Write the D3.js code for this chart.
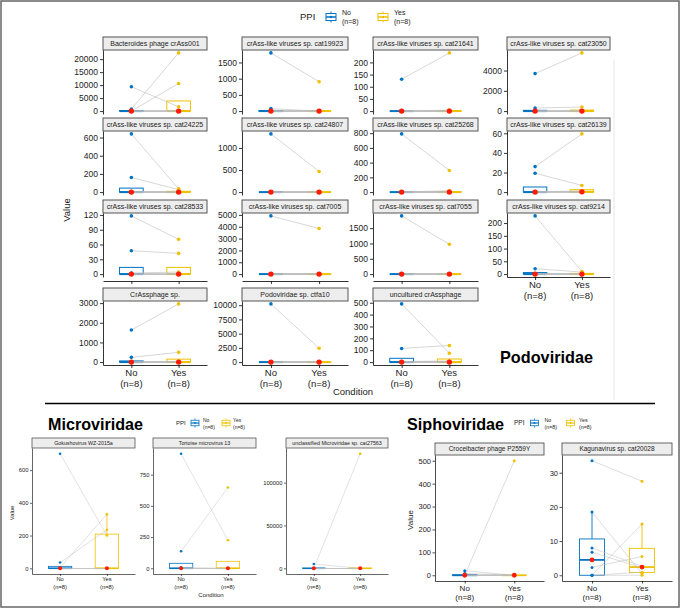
<!DOCTYPE html>
<html><head><meta charset="utf-8">
<script src="https://cdn.jsdelivr.net/npm/d3@7"></script>
<style>
body{margin:0;background:#fff}
svg{display:block}
text{font-family:"Liberation Sans",Arial,Helvetica,sans-serif}
</style>
</head><body>
<svg id="c" width="681" height="610"></svg>
<script>
// ---------------- DATA ----------------
const conditions = ["No", "Yes"];
const conditionCounts = ["(n=8)", "(n=8)"];
const groupColors = ["#0073C2", "#EFC000"];
const medianColor = "#FF1A00";

// Podoviridae panels (paired values, subject i in No[i] and Yes[i])
const podoNames = [
  "Bacteroides phage crAss001", "crAss-like viruses sp. cat19923", "crAss-like viruses sp. cat21641", "crAss-like viruses sp. cat23050",
  "crAss-like viruses sp. cat24225", "crAss-like viruses sp. cat24807", "crAss-like viruses sp. cat25268", "crAss-like viruses sp. cat26139",
  "crAss-like viruses sp. cat28533", "crAss-like viruses sp. cat7005", "crAss-like viruses sp. cat7055", "crAss-like viruses sp. cat9214",
  "CrAssphage sp.", "Podoviridae sp. ctfa10", "uncultured crAssphage"
];
const podoNo = [
  [9350, 800, 0, 0, 0, 0, 0, 0],
  [1795, 75, 0, 0, 0, 0, 0, 0],
  [131, 0, 0, 0, 0, 0, 0, 0],
  [3700, 300, 0, 0, 0, 0, 0, 0],
  [640, 160, 5, 0, 0, 0, 0, 0],
  [1318, 0, 0, 0, 0, 0, 0, 0],
  [790, 0, 0, 0, 0, 0, 0, 0],
  [26, 19.3, 0.5, 0, 0, 0, 0, 0],
  [118, 47.4, 2.3, 0, 0, 0, 0, 0],
  [4915, 0, 0, 0, 0, 0, 0, 0],
  [1900, 0, 0, 0, 0, 0, 0, 0],
  [228, 21, 1, 0, 0, 0, 0, 0],
  [1630, 240, 0, 0, 0, 0, 0, 0],
  [10230, 0, 0, 0, 0, 0, 0, 0],
  [490, 115, 4.3, 0, 0, 0, 0, 0]
];
const podoYes = [
  [1650, 22400, 10650, 0, 0, 0, 0, 0],
  [906, 0, 0, 0, 0, 0, 0, 0],
  [239, 4, 0, 0, 0, 0, 0, 0],
  [5740, 400, 0, 0, 0, 0, 0, 0],
  [35, 28, 2, 0, 0, 0, 0, 0],
  [468, 0, 0, 0, 0, 0, 0, 0],
  [294, 20, 0, 0, 0, 0, 0, 0],
  [59.4, 6.8, 1, 0.5, 0, 0, 0, 0],
  [70.5, 42, 4.1, 0, 0, 0, 0, 0],
  [3850, 0, 0, 0, 0, 0, 0, 0],
  [975, 0, 0, 0, 0, 0, 0, 0],
  [10.3, 8, 1, 0, 0, 0, 0, 0],
  [2960, 495, 35, 0, 0, 0, 0, 0],
  [2430, 0, 0, 0, 0, 0, 0, 0],
  [75, 140, 9.7, 0, 0, 0, 0, 0]
];
const podoTicks = [
  [0, 5000, 10000, 15000, 20000], [0, 500, 1000, 1500], [0, 50, 100, 150, 200], [0, 2000, 4000],
  [0, 200, 400, 600], [0, 500, 1000], [0, 200, 400, 600, 800], [0, 20, 40, 60],
  [0, 30, 60, 90, 120], [0, 1000, 2000, 3000, 4000, 5000], [0, 500, 1000, 1500], [0, 50, 100, 150, 200],
  [0, 1000, 2000, 3000], [0, 2500, 5000, 7500, 10000], [0, 100, 200, 300, 400, 500]
];

// Microviridae panels
const microNames = ["Gokushovirus WZ-2015a", "Tortoise microvirus 13", "unclassified Microviridae sp. cat27563"];
const microNo = [
  [700, 35, 4, 0, 0, 0, 0, 0],
  [918, 136, 8, 0, 0, 0, 0, 0],
  [0, 5000, 0, 0, 0, 0, 0, 0]
];
const microYes = [
  [200, 235, 330, 0, 0, 0, 0, 0],
  [224, 647, 0, 0, 0, 0, 0, 0],
  [133700, 0, 0, 0, 0, 0, 0, 0]
];
const microTicks = [[0, 200, 400, 600], [0, 250, 500, 750], [0, 50000, 100000]];

// Siphoviridae panels
const siphoNames = ["Croceibacter phage P2559Y", "Kagunavirus sp. cat20028"];
const siphoNo = [
  [0, 20, 8, 0, 0, 0, 0, 0],
  [33.5, 18.5, 8, 6.7, 2.3, 0, 0, 0]
];
const siphoYes = [
  [500, 0, 0, 0, 0, 0, 0, 0],
  [27.5, 0.5, 2.6, 2.2, 5.5, 15, 0.9, 0]
];
const siphoTicks = [[0, 100, 200, 300, 400, 500], [0, 10, 20, 30]];

// ---------------- DRAWING ----------------
const svg = d3.select("#c");
svg.append("rect").attr("width", 681).attr("height", 610).attr("fill", "#fff");

function drawPanel(o) {
  const g = svg.append("g");
  const M = d3.max(o.no.concat(o.yes));
  const y = d3.scaleLinear().domain([-0.05 * M, 1.05 * M]).range([o.bottom, o.top]);
  const x = d3.scalePoint().domain(conditions).range([o.x0, o.x1]).padding(0.6);
  const step = x.step();

  // strip
  g.append("rect").attr("x", o.x0).attr("y", o.top - o.stripH)
    .attr("width", o.x1 - o.x0).attr("height", o.stripH)
    .attr("fill", "#EDEDED").attr("stroke", "#555").attr("stroke-width", o.stripStroke);
  g.append("text").attr("x", (o.x0 + o.x1) / 2).attr("y", o.top - o.stripH / 2)
    .attr("dy", "0.35em").attr("text-anchor", "middle").attr("font-size", o.stripFont)
    .attr("fill", "#222").text(o.name);

  // y axis
  const yg = g.append("g").attr("transform", `translate(${o.x0},0)`)
    .call(d3.axisLeft(y).tickValues(o.ticks).tickFormat(d3.format("d"))
      .tickSize(o.tickLen).tickSizeOuter(0).tickPadding(o.tickPad));
  yg.attr("font-family", null).attr("font-size", null);
  yg.select(".domain").attr("stroke", "#000").attr("stroke-width", o.axisW);
  yg.selectAll(".tick line").attr("stroke", "#000").attr("stroke-width", o.axisW);
  yg.selectAll(".tick text").attr("font-size", o.tickFont).attr("fill", "#222");

  // x axis
  if (o.xAxis) {
    const ay = o.xAxisY !== undefined ? o.xAxisY : o.bottom;
    const xg = g.append("g").attr("transform", `translate(0,${ay})`)
      .call(d3.axisBottom(x).tickSize(o.tickLen).tickSizeOuter(0).tickFormat(""));
    xg.select(".domain").attr("stroke", "#000").attr("stroke-width", o.axisW);
    xg.selectAll(".tick line").attr("stroke", "#000").attr("stroke-width", o.axisW);
    if (o.xLabels) {
      conditions.forEach((c, i) => {
        const t = g.append("text").attr("text-anchor", "middle").attr("font-size", o.xFont).attr("fill", "#222");
        t.append("tspan").attr("x", x(c)).attr("y", ay + o.xLab1).text(c);
        t.append("tspan").attr("x", x(c)).attr("y", ay + o.xLab2).text(conditionCounts[i]);
      });
    }
  }

  const groups = [o.no, o.yes];
  // boxes
  groups.forEach((vals, i) => {
    const s = vals.slice().sort(d3.ascending);
    const q1 = d3.quantile(s, 0.25), med = d3.quantile(s, 0.5), q3 = d3.quantile(s, 0.75);
    const iqr = q3 - q1;
    const hi = d3.max(s.filter(v => v <= q3 + 1.5 * iqr));
    const lo = d3.min(s.filter(v => v >= q1 - 1.5 * iqr));
    const cx = x(conditions[i]), hw = 0.25 * step, col = groupColors[i];
    g.append("line").attr("x1", cx).attr("x2", cx).attr("y1", y(q3)).attr("y2", y(hi))
      .attr("stroke", col).attr("stroke-width", o.boxW);
    g.append("line").attr("x1", cx).attr("x2", cx).attr("y1", y(q1)).attr("y2", y(lo))
      .attr("stroke", col).attr("stroke-width", o.boxW);
    g.append("rect").attr("x", cx - hw).attr("y", y(q3)).attr("width", 2 * hw)
      .attr("height", Math.max(0, y(q1) - y(q3)))
      .attr("fill", "#fff").attr("stroke", col).attr("stroke-width", o.boxW);
    g.append("line").attr("x1", cx - hw).attr("x2", cx + hw).attr("y1", y(med)).attr("y2", y(med))
      .attr("stroke", col).attr("stroke-width", o.boxW * 2);
  });
  // paired lines
  o.no.forEach((v, k) => {
    g.append("line").attr("x1", x("No")).attr("y1", y(v)).attr("x2", x("Yes")).attr("y2", y(o.yes[k]))
      .attr("stroke", "#BDBDBD").attr("stroke-width", o.lineW).attr("opacity", 0.85);
  });
  // points
  groups.forEach((vals, i) => {
    vals.forEach(v => {
      g.append("circle").attr("cx", x(conditions[i])).attr("cy", y(v)).attr("r", o.ptR)
        .attr("fill", groupColors[i]);
    });
  });
  // medians
  groups.forEach((vals, i) => {
    const med = d3.median(vals);
    g.append("circle").attr("cx", x(conditions[i])).attr("cy", y(med)).attr("r", o.medR).attr("fill", medianColor);
  });
}

function legend(x, y, s) {
  const g = svg.append("g");
  g.append("text").attr("x", x).attr("y", y).attr("dy", "0.35em").attr("font-size", s.title).attr("fill", "#222").text("PPI");
  s.items.forEach((ix, i) => {
    const col = groupColors[i];
    const cx = ix.icon;
    g.append("line").attr("x1", cx).attr("x2", cx).attr("y1", y - s.ih / 2).attr("y2", y + s.ih / 2).attr("stroke", col).attr("stroke-width", s.sw);
    g.append("rect").attr("x", cx - s.iw / 2).attr("y", y - s.bh / 2).attr("width", s.iw).attr("height", s.bh)
      .attr("fill", "#fff").attr("stroke", col).attr("stroke-width", s.sw);
    g.append("line").attr("x1", cx - s.iw / 2).attr("x2", cx + s.iw / 2).attr("y1", y).attr("y2", y).attr("stroke", col).attr("stroke-width", s.sw * 1.5);
    g.append("circle").attr("cx", cx).attr("cy", y).attr("r", s.dot).attr("fill", col);
    g.append("text").attr("x", ix.label).attr("y", y - s.gap).attr("font-size", s.lab).attr("fill", "#222").text(conditions[i]);
    g.append("text").attr("x", ix.label).attr("y", y + s.gap2).attr("font-size", s.lab).attr("fill", "#222").text(conditionCounts[i]);
  });
}

// --- Podoviridae grid ---
const podoCols = [[103, 207], [242, 348], [373, 478], [507, 610]];
const podoRowTop = [50, 131, 213, 301];
const topStyle = {stripH: 13, stripStroke: 1, stripFont: 7, tickFont: 8.5, tickLen: 3, tickPad: 2, axisW: 0.8,
  xFont: 9.5, xLab1: 11, xLab2: 22, boxW: 1, lineW: 0.7, ptR: 1.8, medR: 2.7};
podoNames.forEach((name, k) => {
  const r = Math.floor(k / 4), c = k % 4;
  const o = Object.assign({}, topStyle, {
    name, no: podoNo[k], yes: podoYes[k], ticks: podoTicks[k],
    x0: podoCols[c][0], x1: podoCols[c][1], top: podoRowTop[r], bottom: podoRowTop[r] + 64
  });
  if (r === 2 && c < 3) { o.xAxis = true; o.xAxisY = 281; o.xLabels = false; }
  if (r === 2 && c === 3) { o.xAxis = true; o.xLabels = true; }
  if (r === 3) { o.xAxis = true; o.xLabels = true; }
  drawPanel(o);
});
svg.append("text").attr("transform", "translate(70,210) rotate(-90)").attr("text-anchor", "middle")
  .attr("font-size", 9.5).attr("fill", "#222").text("Value");
svg.append("text").attr("x", 353).attr("y", 395).attr("text-anchor", "middle")
  .attr("font-size", 9.5).attr("fill", "#222").text("Condition");
svg.append("text").attr("x", 500).attr("y", 363).attr("font-size", 16.5).attr("font-weight", "bold")
  .attr("textLength", 93).attr("lengthAdjust", "spacingAndGlyphs").attr("fill", "#000").text("Podoviridae");
legend(300, 17, {title: 9.5, lab: 7, ih: 11, iw: 10, bh: 7, sw: 1, dot: 1.2, gap: 2, gap2: 7,
  items: [{icon: 331, label: 342}, {icon: 383, label: 394}]});

// faint panel edge
svg.append("line").attr("x1", 614).attr("x2", 614).attr("y1", 60).attr("y2", 400).attr("stroke", "#E6E6E6").attr("stroke-width", 1);
// separator
svg.append("line").attr("x1", 45).attr("x2", 655).attr("y1", 403.5).attr("y2", 403.5).attr("stroke", "#000").attr("stroke-width", 1.6);

// --- Microviridae ---
const microCols = [[32, 135], [153, 256], [286, 388]];
const microStyle = {stripH: 10, stripStroke: 0.8, stripFont: 5.3, tickFont: 5.8, tickLen: 2, tickPad: 1.5, axisW: 0.6,
  xFont: 5.8, xLab1: 7, xLab2: 15, boxW: 0.8, lineW: 0.5, ptR: 1.3, medR: 2, xAxis: true, xLabels: true};
microNames.forEach((name, k) => {
  drawPanel(Object.assign({}, microStyle, {name, no: microNo[k], yes: microYes[k], ticks: microTicks[k],
    x0: microCols[k][0], x1: microCols[k][1], top: 448, bottom: 574}));
});
svg.append("text").attr("transform", "translate(14,513) rotate(-90)").attr("text-anchor", "middle")
  .attr("font-size", 5.8).attr("fill", "#222").text("Value");
svg.append("text").attr("x", 211).attr("y", 597).attr("text-anchor", "middle")
  .attr("font-size", 6).attr("fill", "#222").text("Condition");
svg.append("text").attr("x", 48).attr("y", 430).attr("font-size", 16.5).attr("font-weight", "bold")
  .attr("textLength", 95).attr("lengthAdjust", "spacingAndGlyphs").attr("fill", "#000").text("Microviridae");
legend(176, 423, {title: 6, lab: 5, ih: 9, iw: 8, bh: 5.5, sw: 0.8, dot: 0.9, gap: 1.5, gap2: 5.5,
  items: [{icon: 195, label: 203}, {icon: 226, label: 233}]});

// --- Siphoviridae ---
const siphoCols = [[435, 544], [562, 672]];
const siphoStyle = {stripH: 12, stripStroke: 0.9, stripFont: 6.5, tickFont: 7.5, tickLen: 2.5, tickPad: 1.5, axisW: 0.7,
  xFont: 8, xLab1: 10, xLab2: 19, boxW: 0.9, lineW: 0.6, ptR: 1.5, medR: 2.4, xAxis: true, xLabels: true};
siphoNames.forEach((name, k) => {
  drawPanel(Object.assign({}, siphoStyle, {name, no: siphoNo[k], yes: siphoYes[k], ticks: siphoTicks[k],
    x0: siphoCols[k][0], x1: siphoCols[k][1], top: 455, bottom: 581}));
});
svg.append("text").attr("transform", "translate(413,520) rotate(-90)").attr("text-anchor", "middle")
  .attr("font-size", 8).attr("fill", "#222").text("Value");
svg.append("text").attr("x", 407).attr("y", 430).attr("font-size", 16.5).attr("font-weight", "bold")
  .attr("textLength", 97).attr("lengthAdjust", "spacingAndGlyphs").attr("fill", "#000").text("Siphoviridae");
legend(514, 423, {title: 6.5, lab: 5.3, ih: 9, iw: 8, bh: 5.5, sw: 0.8, dot: 0.9, gap: 1.5, gap2: 5.5,
  items: [{icon: 534.5, label: 544.5}, {icon: 570.5, label: 579}]});

// outer border
svg.append("rect").attr("x", 1).attr("y", 1).attr("width", 678).attr("height", 606)
  .attr("fill", "none").attr("stroke", "#666").attr("stroke-width", 1.5);
</script>
</body></html>
